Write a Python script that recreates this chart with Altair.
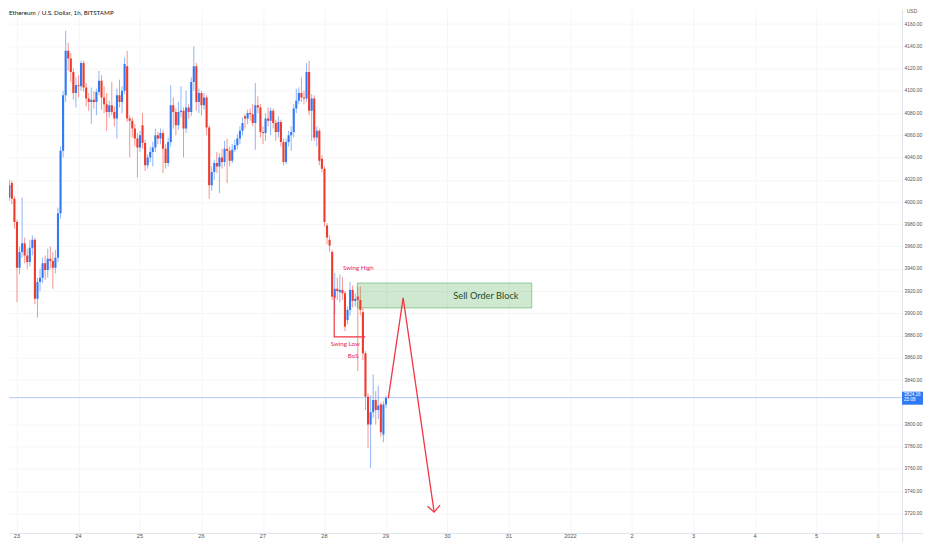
import altair as alt
import pandas as pd

# hourly candles, hour index relative to 23 Dec 00:00 (first candle = 22 Dec 18:00)
START_HOUR = -6
OPEN = [3987, 3982, 4000, 4004, 4017, 4003, 3982, 3941, 3955, 3963, 3952, 3946, 3959, 3966, 3913, 3928,
        3932, 3945, 3939, 3949, 3947, 3941, 3950, 3990, 4046, 4096, 4136, 4129, 4117, 4098, 4105, 4104,
        4125, 4103, 4093, 4090, 4092, 4090, 4099, 4109, 4094, 4088, 4081, 4087, 4081, 4075, 4096, 4090,
        4100, 4122, 4075, 4073, 4066, 4057, 4049, 4069, 4053, 4033, 4040, 4045, 4049, 4060, 4057, 4062,
        4048, 4035, 4054, 4087, 4081, 4069, 4081, 4082, 4066, 4085, 4081, 4108, 4122, 4090, 4098, 4087,
        4094, 4067, 4015, 4027, 4035, 4032, 4040, 4036, 4048, 4046, 4037, 4047, 4051, 4057, 4064, 4077,
        4075, 4080, 4079, 4071, 4087, 4085, 4063, 4062, 4075, 4073, 4082, 4071, 4063, 4072, 4054, 4036,
        4054, 4060, 4063, 4084, 4091, 4098, 4094, 4093, 4117, 4082, 4093, 4058, 4064, 4039, 4030, 3979,
        3966, 3955, 3914, 3922, 3919, 3921, 3918, 3894, 3903, 3921, 3911, 3915, 3912, 3901, 3864, 3825,
        3800, 3811, 3822, 3813, 3818, 3791, 3818]
CLOSE = [3982, 4000, 4004, 4015, 4003, 3982, 3941, 3955, 3963, 3952, 3946, 3959, 3966, 3913, 3928, 3932,
         3945, 3939, 3949, 3947, 3941, 3950, 3990, 4046, 4096, 4136, 4129, 4117, 4098, 4105, 4104, 4125,
         4103, 4093, 4090, 4092, 4090, 4099, 4109, 4094, 4088, 4081, 4087, 4081, 4075, 4096, 4090, 4100,
         4124, 4075, 4073, 4066, 4057, 4049, 4060, 4053, 4033, 4040, 4045, 4049, 4060, 4057, 4062, 4048,
         4035, 4054, 4087, 4081, 4069, 4081, 4082, 4066, 4085, 4081, 4108, 4122, 4090, 4098, 4087, 4094,
         4067, 4015, 4027, 4035, 4032, 4040, 4036, 4048, 4046, 4037, 4047, 4051, 4057, 4064, 4071, 4075,
         4080, 4079, 4071, 4087, 4085, 4063, 4062, 4075, 4073, 4082, 4071, 4063, 4072, 4054, 4036, 4054,
         4060, 4063, 4084, 4091, 4098, 4094, 4093, 4117, 4082, 4093, 4058, 4064, 4037, 4030, 3982, 3968,
         3961, 3915, 3922, 3920, 3921, 3918, 3888, 3903, 3921, 3911, 3913, 3912, 3903, 3864, 3825, 3800,
         3811, 3822, 3813, 3817, 3793, 3818, 3824]
HIGH = [3990, 4003, 4008, 4020, 4019, 4005, 3984, 3960, 4004, 3968, 3958, 3966, 3970, 3968, 3932, 3940,
        3950, 3952, 3958, 3960, 3955, 3957, 3995, 4050, 4100, 4154, 4143, 4134, 4120, 4112, 4114, 4127,
        4127, 4107, 4098, 4103, 4100, 4102, 4118, 4114, 4104, 4098, 4091, 4108, 4086, 4102, 4110, 4104,
        4130, 4136, 4078, 4076, 4070, 4062, 4064, 4080, 4056, 4043, 4050, 4054, 4066, 4063, 4066, 4065,
        4052, 4058, 4105, 4094, 4084, 4090, 4104, 4085, 4100, 4088, 4112, 4140, 4125, 4102, 4100, 4098,
        4096, 4069, 4032, 4038, 4045, 4044, 4048, 4055, 4057, 4050, 4052, 4056, 4061, 4068, 4076, 4079,
        4083, 4084, 4088, 4107, 4095, 4088, 4068, 4080, 4085, 4085, 4084, 4074, 4077, 4074, 4057, 4057,
        4064, 4068, 4088, 4102, 4103, 4112, 4100, 4125, 4127, 4097, 4096, 4068, 4066, 4042, 4032, 3981,
        3970, 3957, 3936, 3932, 3935, 3933, 3920, 3906, 3928, 3925, 3918, 3924, 3924, 3905, 3866, 3828,
        3826, 3845, 3830, 3835, 3820, 3821, 3826]
LOW = [3958, 3978, 3996, 4001, 3998, 3976, 3910, 3935, 3950, 3945, 3940, 3942, 3952, 3908, 3896, 3920,
       3927, 3930, 3932, 3940, 3922, 3936, 3946, 3985, 4040, 4090, 4118, 4108, 4092, 4085, 4094, 4100,
       4099, 4086, 4082, 4070, 4084, 4078, 4096, 4083, 4080, 4064, 4076, 4078, 4068, 4057, 4085, 4080,
       4097, 4072, 4040, 4058, 4050, 4022, 4045, 4048, 4028, 4030, 4036, 4032, 4045, 4052, 4052, 4026,
       4030, 4032, 4050, 4066, 4060, 4065, 4076, 4040, 4062, 4075, 4077, 4100, 4082, 4080, 4078, 4083,
       4060, 4003, 4010, 4020, 4026, 4008, 4030, 4032, 4017, 4032, 4035, 4045, 4047, 4052, 4060, 4066,
       4070, 4073, 4068, 4047, 4080, 4058, 4052, 4055, 4068, 4060, 4066, 4055, 4058, 4050, 4033, 4034,
       4050, 4046, 4058, 4080, 4088, 4090, 4088, 4090, 4078, 4055, 4055, 4050, 4033, 4027, 3978, 3962,
       3955, 3912, 3900, 3912, 3910, 3912, 3884, 3890, 3898, 3905, 3906, 3848, 3898, 3858, 3813, 3779,
       3761, 3806, 3800, 3805, 3789, 3784, 3815]

DAY_TICKS = [0, 24, 48, 72, 96, 120, 144, 168, 192, 216, 240, 264, 288, 312, 336]
DAY_LABELS = ["23", "24", "25", "26", "27", "28", "29", "30", "31", "2022", "2", "3", "4", "5", "6"]
PRICE_TICKS = [3720, 3740, 3760, 3780, 3800, 3840, 3860, 3880, 3900, 3920, 3940, 3960, 3980,
               4000, 4020, 4040, 4060, 4080, 4100, 4120, 4140, 4160]
LAST_PRICE = 3824.16
LAST_PRICE_TEXT = ["3824.16", "25:08"]
BOX_PRICE = [3817.8, 3829.5]

OB_X = [132.8, 200.9]
OB_Y = [3904.8, 3927.2]
OB_TEXT = "Sell Order Block"
OB_TEXT_POS = [183.0, 3915.6]

LABELS = ["Swing High", "Swing Low", "BoS"]
LABEL_X = [133.2, 128.1, 131.2]
LABEL_Y = [3940.7, 3872.5, 3861.7]

SWING_X = [123.8, 123.8, 135.9]
SWING_Y = [3916, 3878.8, 3878.8]

ARROW_X = [144.9, 150.7, 162.8]
ARROW_Y = [3823.5, 3913.8, 3721.2]
HEAD_X = [160.2, 162.8, 165.1]
HEAD_Y = [3726.6, 3721.2, 3727.5]

TITLE = "Ethereum / U.S. Dollar, 1h, BITSTAMP"

# price level of the bottom separator and of the day labels below it
BASE_PRICE = 3702.1
DAY_LABEL_PRICE = 3697.6

UP = "#3179F5"
DOWN = "#EF3B2C"
ANN = "#F23645"
GRID = "#f5f6f9"

PLOT_W = 895
PLOT_H = 534

candles = pd.DataFrame({
    "h": [START_HOUR + i for i in range(len(OPEN))],
    "open": OPEN, "close": CLOSE, "high": HIGH, "low": LOW,
})

xs = alt.Scale(domain=[-3.115, 345.4], nice=False, zero=False)
ys = alt.Scale(domain=[3694.9, 4173.9], nice=False, zero=False)

x_axis = alt.Axis(values=DAY_TICKS, labels=False, ticks=False, domain=False,
                  gridColor=GRID, title=None)
y_axis = alt.Axis(orient="right", values=PRICE_TICKS, format=".2f", ticks=False, labelPadding=2,
                  labelFontSize=4.9, labelFont="Liberation Sans", labelColor="#555",
                  labelOverlap=False, domainColor="#e0e3eb", gridColor=GRID, title=None)


def X(field):
    return alt.X(field, scale=xs, axis=x_axis, title=None)


def Y(field):
    return alt.Y(field, scale=ys, axis=y_axis, title=None)


color_cond = alt.condition("datum.close >= datum.open", alt.value(UP), alt.value(DOWN))

wicks = alt.Chart(candles).mark_rule(strokeWidth=1, opacity=0.55, clip=True).encode(
    x=X("h:Q"), y=Y("low:Q"), y2="high:Q", color=color_cond,
)
bodies = alt.Chart(candles).mark_rule(strokeWidth=2.1, clip=True).encode(
    x=X("h:Q"), y=Y("open:Q"), y2="close:Q", color=color_cond,
)

price_line = alt.Chart(pd.DataFrame({"p": [LAST_PRICE]})).mark_rule(
    color="#9fbcf0", strokeWidth=0.8).encode(y=Y("p:Q"))

base_line = alt.Chart(pd.DataFrame({"p": [BASE_PRICE]})).mark_rule(
    color="#e0e3eb", strokeWidth=1).encode(y=Y("p:Q"), x=alt.value(0), x2=alt.value(916))

day_labels = alt.Chart(pd.DataFrame({"h": DAY_TICKS, "t": DAY_LABELS,
                                     "p": [DAY_LABEL_PRICE] * len(DAY_TICKS)})).mark_text(
    font="Liberation Sans", fontSize=5.6, color="#555", align="center", baseline="alphabetic").encode(
    x=X("h:Q"), y=Y("p:Q"), text="t:N")

ob = pd.DataFrame({"x1": [OB_X[0]], "x2": [OB_X[1]], "y1": [OB_Y[0]], "y2": [OB_Y[1]]})
ob_rect = alt.Chart(ob).mark_rect(fill="#4CAF50", fillOpacity=0.27, stroke="#5fb36a",
                                  strokeOpacity=0.8, strokeWidth=0.8).encode(
    x=X("x1:Q"), x2="x2:Q", y=Y("y1:Q"), y2="y2:Q")
ob_text = alt.Chart(pd.DataFrame({"x": [OB_TEXT_POS[0]], "y": [OB_TEXT_POS[1]], "t": [OB_TEXT]})).mark_text(
    font="Lato", fontSize=9.3, color="#1e4d2b", align="center", baseline="middle").encode(
    x=X("x:Q"), y=Y("y:Q"), text="t:N")

lbl = alt.Chart(pd.DataFrame({"x": LABEL_X, "y": LABEL_Y, "t": LABELS})).mark_text(
    font="Lato", fontSize=6.2, color="#E91E63", align="center", baseline="middle").encode(
    x=X("x:Q"), y=Y("y:Q"), text="t:N")

swing = alt.Chart(pd.DataFrame({"x": SWING_X, "y": SWING_Y, "o": [0, 1, 2]})).mark_line(
    color=ANN, strokeWidth=1.2).encode(x=X("x:Q"), y=Y("y:Q"), order="o:Q")

arrow_df = pd.DataFrame({
    "x": ARROW_X + HEAD_X, "y": ARROW_Y + HEAD_Y,
    "g": ["path"] * 3 + ["head"] * 3, "o": [0, 1, 2, 0, 1, 2],
})
arrow = alt.Chart(arrow_df).mark_line(color=ANN, strokeWidth=1.3).encode(
    x=X("x:Q"), y=Y("y:Q"), detail="g:N", order="o:Q")

title = alt.Chart(pd.DataFrame({"t": [TITLE]})).mark_text(
    font="Lato", fontSize=6.3, color="#131722", align="left", baseline="top").encode(
    x=alt.value(0), y=alt.value(1), text="t:N")

box = alt.Chart(pd.DataFrame({"a": [BOX_PRICE[0]], "b": [BOX_PRICE[1]]})).mark_rect(color=UP).encode(
    x=alt.value(PLOT_W), x2=alt.value(916), y=Y("a:Q"), y2="b:Q")
box_text1 = alt.Chart(pd.DataFrame({"p": [LAST_PRICE], "t": [LAST_PRICE_TEXT[0]]})).mark_text(
    font="Liberation Sans", fontSize=4.6, color="white", align="left", baseline="middle", dy=-2.6).encode(
    x=alt.value(PLOT_W + 2), y=Y("p:Q"), text="t:N")
box_text2 = alt.Chart(pd.DataFrame({"p": [LAST_PRICE], "t": [LAST_PRICE_TEXT[1]]})).mark_text(
    font="Liberation Sans", fontSize=4.6, color="white", align="left", baseline="middle", dy=2.8).encode(
    x=alt.value(PLOT_W + 2), y=Y("p:Q"), text="t:N")
usd = alt.Chart(pd.DataFrame({"t": ["USD"]})).mark_text(
    font="Liberation Sans", fontSize=5, color="#555", align="center", baseline="top").encode(
    x=alt.value(PLOT_W + 10), y=alt.value(0), text="t:N")

chart = alt.layer(
    wicks, price_line, base_line, day_labels, ob_rect, bodies, swing, arrow, ob_text, lbl, title,
    box, box_text1, box_text2, usd
).properties(width=PLOT_W, height=PLOT_H, padding=0, background="white").configure_view(
    strokeWidth=0).configure_axis(labelOverlap=False)

chart.save("out.html", embed_options={"renderer": "svg", "actions": False})
